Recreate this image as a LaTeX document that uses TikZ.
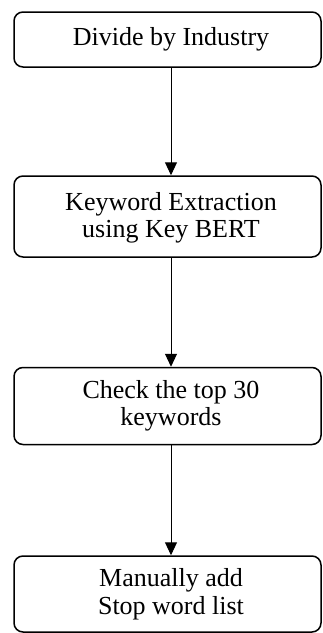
\documentclass[tikz,border=0pt]{standalone}
\usepackage{fontspec}
\setmainfont{Liberation Serif}
\usetikzlibrary{arrows.meta}
\tikzset{
  boxst/.style={draw, line width=1.5pt, rounded corners=9pt, minimum width=307pt, inner sep=0pt},
  txt/.style={align=center, inner sep=0pt, font=\fontsize{26}{27.5}\selectfont},
  arr/.style={line width=1pt, -{Triangle[length=13pt,width=12pt]}}
}
\begin{document}
\begin{tikzpicture}[x=1pt,y=1pt]
\useasboundingbox (0,0) rectangle (322,-633);
\node[boxst, minimum height=55pt] (b1) at (167.5,-39.5) {};
\node[boxst, minimum height=81pt] (b2) at (167.5,-216.5) {};
\node[boxst, minimum height=77pt] (b3) at (167.5,-406) {};
\node[boxst, minimum height=76pt] (b4) at (167.5,-594) {};
\node[txt] (t1) at (171,-39.5) {Divide by Industry};
\node[txt] (t2) at (171,-218) {Keyword Extraction\\using Key BERT};
\node[txt] (t3) at (171,-406) {Check the top 30\\keywords};
\node[txt] (t4) at (171,-594) {Manually add\\Stop word list};
\draw[arr] (b1.south -| t1) -- (b2.north -| t1);
\draw[arr] (b2.south -| t2) -- (b3.north -| t2);
\draw[arr] (b3.south -| t3) -- (b4.north -| t3);
\end{tikzpicture}
\end{document}
